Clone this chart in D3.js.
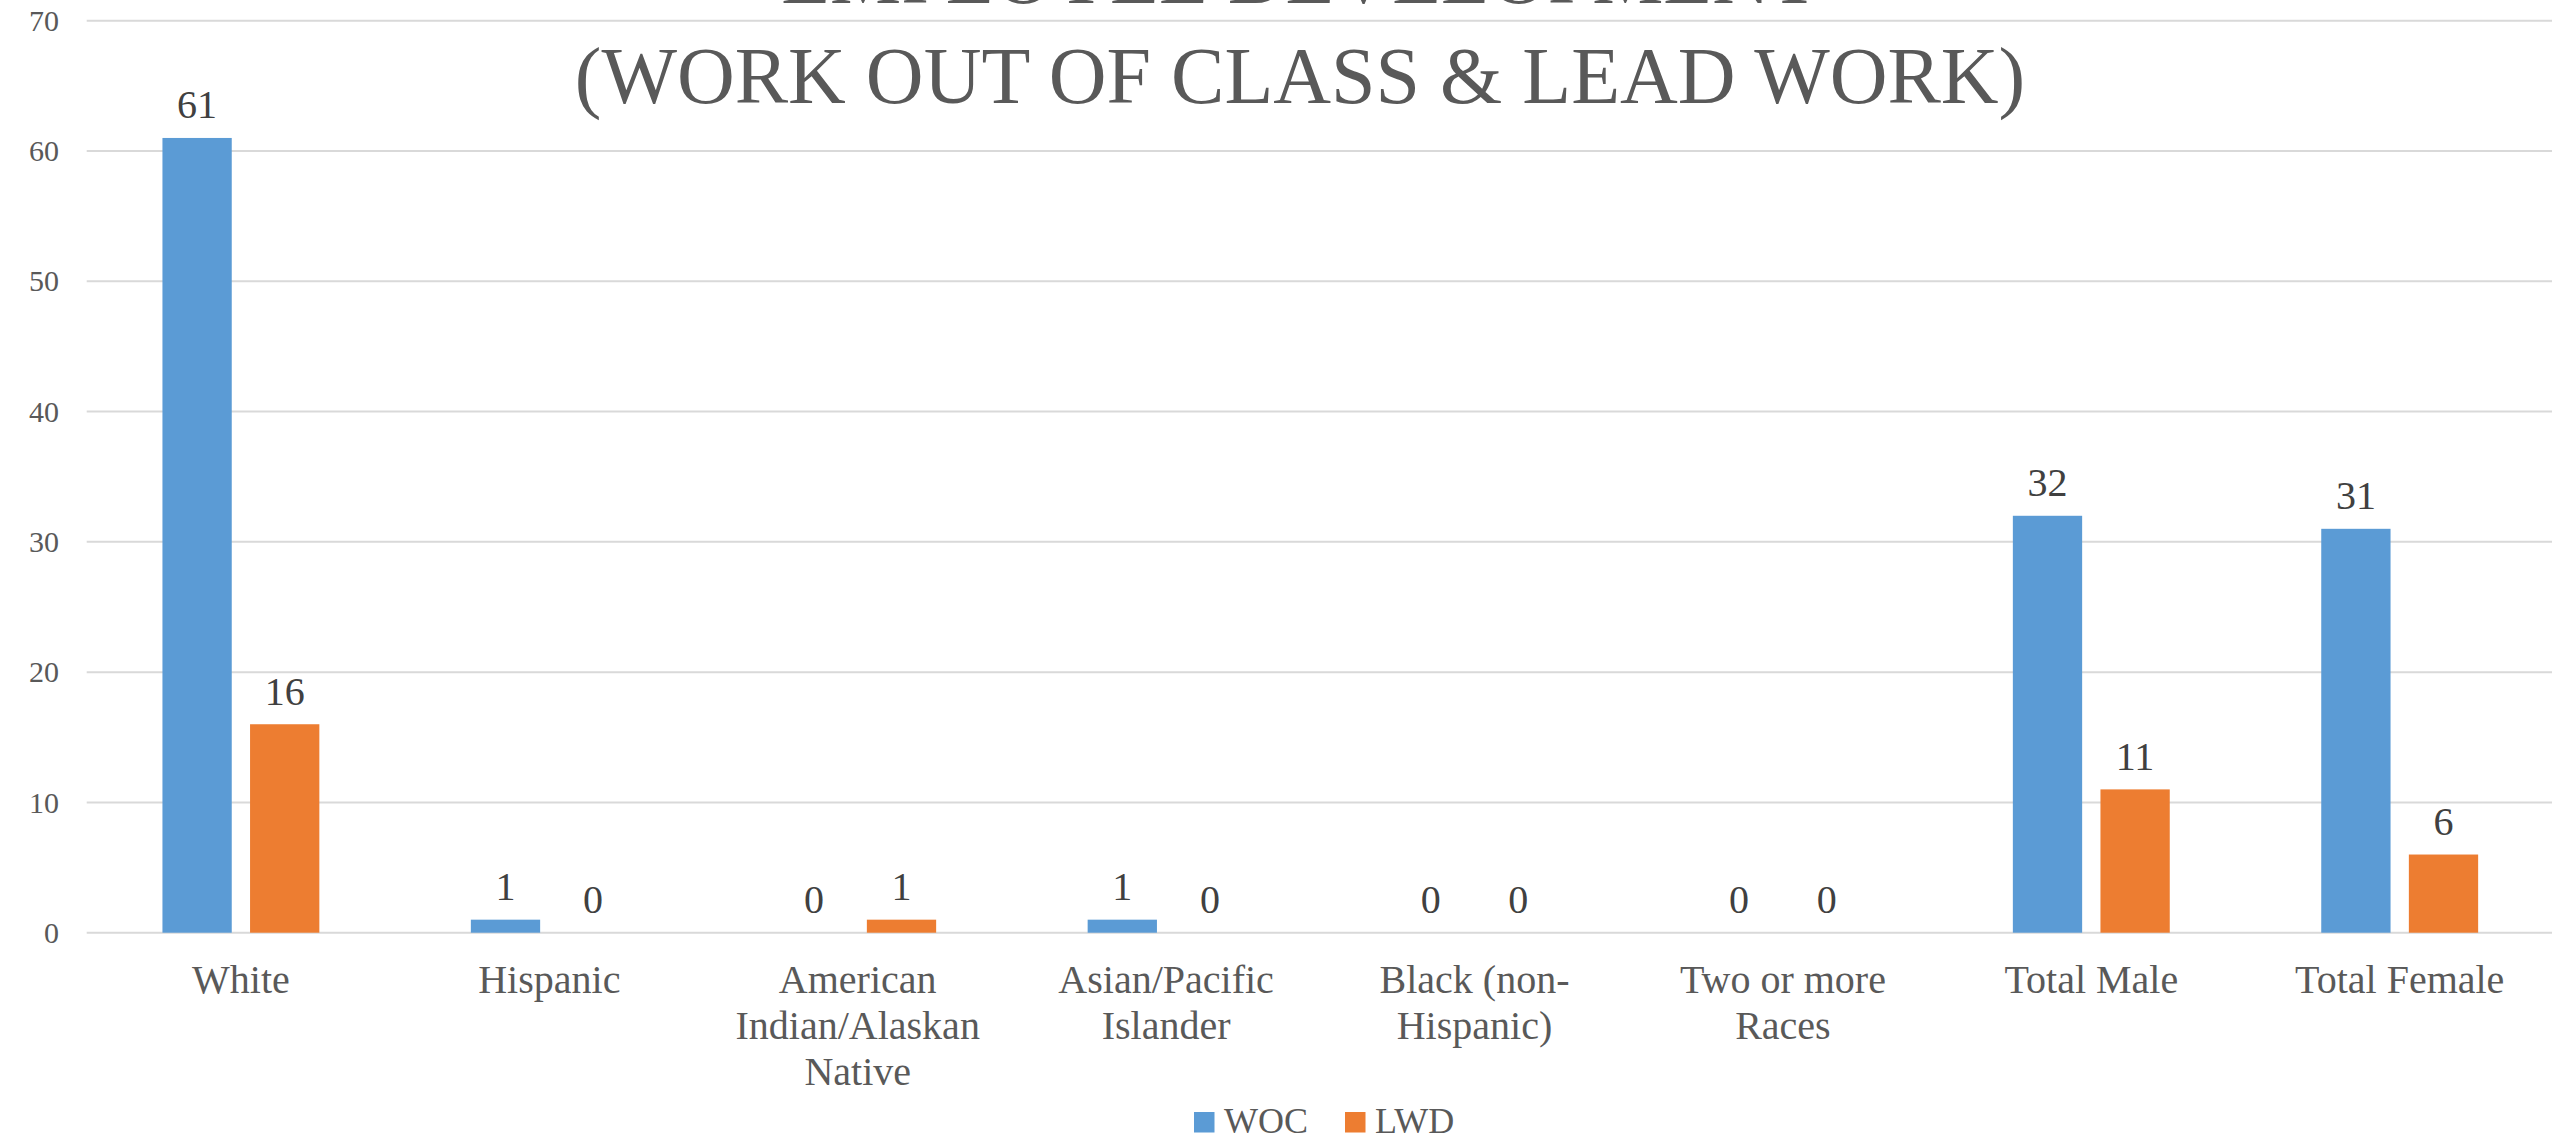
<!DOCTYPE html>
<html>
<head>
<meta charset="utf-8">
<script src="https://cdn.jsdelivr.net/npm/d3@7"></script>
<style>
  html, body { margin: 0; padding: 0; background: #fff; }
  svg { display: block; }
  text { font-family: "Liberation Serif", "Times New Roman", serif; }
</style>
</head>
<body>
<svg id="chart" width="2552" height="1139"></svg>
<script>
const titleLines = ["EMPLOYEE DEVELOPMENT", "(WORK OUT OF CLASS & LEAD WORK)"];
const categories = ["White", "Hispanic", "American Indian/Alaskan Native", "Asian/Pacific Islander", "Black (non-Hispanic)", "Two or more Races", "Total Male", "Total Female"];
const categoryLines = [["White"], ["Hispanic"], ["American", "Indian/Alaskan", "Native"], ["Asian/Pacific", "Islander"], ["Black (non-", "Hispanic)"], ["Two or more", "Races"], ["Total Male"], ["Total Female"]];
const seriesNames = ["WOC", "LWD"];
const wocValues = [61, 1, 0, 1, 0, 0, 32, 31];
const lwdValues = [16, 0, 1, 0, 0, 0, 11, 6];
const yTicks = [0, 10, 20, 30, 40, 50, 60, 70];
const colors = ["#5B9BD5", "#ED7D31"];

(function () {
const svg = d3.select("#chart");
const plotLeft = 86.7, plotRight = 2553.9, plotTop = 20.7, plotBottom = 932.7;

const x0 = d3.scaleBand().domain(categories).range([plotLeft, plotRight]).paddingInner(0).paddingOuter(0);
const x1 = d3.scaleBand().domain(seriesNames).range([0, x0.bandwidth()]).paddingInner(0.209).paddingOuter(0.8647);
const y = d3.scaleLinear().domain([0, 70]).range([plotBottom, plotTop]);

// gridlines
svg.append("g").selectAll("line").data(yTicks).join("line")
  .attr("x1", plotLeft).attr("x2", plotRight)
  .attr("y1", d => y(d)).attr("y2", d => y(d))
  .attr("stroke", "#D9D9D9").attr("stroke-width", 2);

// y axis labels
const yAxis = d3.axisLeft(y).tickValues(yTicks).tickSize(0).tickPadding(0);
const gy = svg.append("g").attr("transform", "translate(59,0)").call(yAxis);
gy.select(".domain").remove();
gy.selectAll("text")
  .attr("font-family", "Liberation Serif, Times New Roman, serif")
  .attr("font-size", 30).attr("fill", "#595959");

// title
svg.append("g").selectAll("text").data(titleLines).join("text")
  .attr("x", 1300).attr("y", (d, i) => 3 + i * 100)
  .attr("text-anchor", "middle")
  .attr("font-size", 80).attr("fill", "#595959")
  .text(d => d);

// bars
const rows = categories.map((c, i) => ({ cat: c, vals: [wocValues[i], lwdValues[i]] }));
const groups = svg.append("g").selectAll("g").data(rows).join("g")
  .attr("transform", d => `translate(${x0(d.cat)},0)`);

groups.selectAll("rect").data(d => d.vals.map((v, j) => ({ s: seriesNames[j], v, j }))).join("rect")
  .attr("x", d => x1(d.s)).attr("width", x1.bandwidth())
  .attr("y", d => y(d.v)).attr("height", d => y(0) - y(d.v))
  .attr("fill", d => colors[d.j]);

groups.selectAll("text.val").data(d => d.vals.map((v, j) => ({ s: seriesNames[j], v, j }))).join("text")
  .attr("class", "val")
  .attr("x", d => x1(d.s) + x1.bandwidth() / 2)
  .attr("y", d => y(d.v) - 19.5)
  .attr("text-anchor", "middle")
  .attr("font-size", 40).attr("fill", "#404040")
  .text(d => d.v);

// category labels
const catG = svg.append("g").selectAll("text").data(categories).join("text")
  .attr("x", d => x0(d) + x0.bandwidth() / 2)
  .attr("y", 993.3)
  .attr("text-anchor", "middle")
  .attr("font-size", 40).attr("fill", "#595959");
catG.each(function (d, i) {
  d3.select(this).selectAll("tspan").data(categoryLines[i]).join("tspan")
    .attr("x", x0(d) + x0.bandwidth() / 2)
    .attr("dy", (t, k) => k === 0 ? 0 : 46)
    .text(t => t);
});

// legend
const legendItems = [{ name: "WOC", x: 1194 }, { name: "LWD", x: 1345 }];
const lg = svg.append("g").selectAll("g").data(legendItems).join("g");
lg.append("rect").attr("x", d => d.x).attr("y", 1112).attr("width", 20.5).attr("height", 20.5)
  .attr("fill", (d, i) => colors[i]);
lg.append("text").attr("x", d => d.x + 30).attr("y", 1133)
  .attr("font-size", 36).attr("fill", "#595959").text(d => d.name);
})();
</script>
</body>
</html>
